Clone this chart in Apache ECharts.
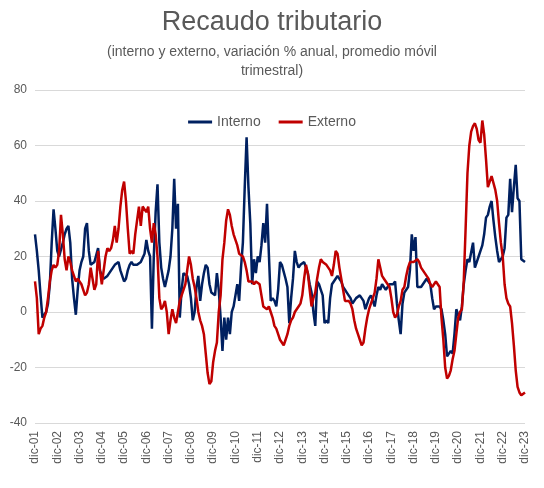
<!DOCTYPE html>
<html>
<head>
<meta charset="utf-8">
<script src="https://cdn.jsdelivr.net/npm/echarts@6/dist/echarts.min.js"></script>
<style>html,body{margin:0;padding:0;background:#fff}#chart{width:544px;height:488px}</style>
</head>
<body>
<div id="chart"></div>
<script>
'use strict';
// meses (dic-01 .. dic-23)
const monthNames = ['ene', 'feb', 'mar', 'abr', 'may', 'jun', 'jul', 'ago', 'sep', 'oct', 'nov', 'dic'];
const yTicks = [-40, -20, 0, 20, 40, 60, 80];

const interno = [
    28, 22, 15, 6, -2, -1, 0, 3, 10, 25, 37, 30, 22,
    20, 20, 25, 28, 30, 31, 25, 12, 5, -1, 8, 15,
    18, 20, 30, 32, 22, 17, 17, 18, 18, 23, 15, 13,
    12, 12, 13, 14, 15, 16, 17, 17, 18, 15, 13, 11,
    12, 15, 17, 18, 17, 17, 17, 17, 18, 18, 21, 26,
    22, 20, -6, 20, 36, 46, 25, 16, 12, 9, 12, 15,
    20, 30, 48, 30, 39, -2, 8, 14, 14, 13, 10, 5,
    -3, 0, 9, 13, 4, 10, 14, 17, 16, 10, 7, 7,
    6, 14, 8, -2, -14, -2, -10, -2, -8, 0, 2, 6,
    10, 4, 16, 25, 45, 63, 45, 32, 10, 19, 14, 20,
    18, 24, 32, 25, 39, 21, 4, 5, 4, 2, 8, 18,
    17, 17, 12, 9, -4, 5, 12, 22, 18, 16, 17, 17,
    18, 18, 14, 10, 7, 0, -5, 11, 10, 8, 6, -4,
    -3, -4, 5, 10, 11, 12, 13, 12, 11, 9, 8, 7,
    6, 5, 3, 4, 5, 5, 6, 5, 4, 1, 3, 5,
    6, 4, 2, 6, 9, 8, 10, 9, 8, 9, 10, 10,
    10, 11, 3, -3, -8, 3, 7, 8, 9, 15, 28, 22,
    27, 9, 9, 9, 10, 11, 12, 11, 10, 5, 1, 2,
    2, 2, 1, -3, -8, -16, -15, -14, -15, -8, 1, -1,
    -3, 2, 10, 15, 19, 18, 18, 25, 16, 18, 20, 22,
    24, 28, 34, 35, 38, 40, 33, 27, 22, 18, 18, 20,
    23, 34, 35, 48, 36, 45, 53, 41, 40, 19, 19, 18
];

const externo = [
    11, 5, -8, -6, -5, -2, 0, 5, 11, 15, 17, 16, 17,
    22, 35, 28, 19, 15, 20, 18, 15, 13, 11, 12, 11,
    10, 8, 6, 7, 10, 16, 12, 8, 10, 22, 15, 10,
    15, 20, 23, 22, 23, 26, 31, 25, 30, 38, 44, 47,
    40, 30, 21, 22, 21, 28, 33, 38, 31, 38, 38, 36,
    38, 30, 25, 32, 28, 20, 5, 1, 2, 4, 0, -8,
    -3, 1, -2, -4, 0, 4, 4, 8, 10, 15, 20, 17,
    12, 9, 5, 0, -3, -5, -8, -15, -22, -26, -25, -18,
    -14, -11, 0, 6, 19, 25, 33, 37, 35, 31, 28, 26,
    24, 21, 21, 20, 18, 15, 11, 11, 11, 10, 11, 11,
    10, 6, 2, 2, 1, 2, 0, -2, -5, -6, -8, -10,
    -11, -12, -10, -8, -5, -3, -2, 0, 1, 2, 3, 6,
    12, 17, 14, 8, 2, 5, 7, 12, 16, 19, 18, 18,
    17, 17, 15, 13, 17, 22, 21, 16, 12, 8, 4, 4,
    4, 3, 1, -3, -6, -8, -10, -12, -11, -6, -2, 1,
    3, 5, 7, 12, 19, 16, 13, 12, 11, 11, 9, 5,
    0, -2, -1, 2, 4, 8, 9, 13, 16, 18, 18, 18,
    18, 19, 18, 16, 15, 14, 13, 12, 10, 9, 9, 11,
    11, 9, -2, -10, -20, -24, -23, -21, -17, -14, -8, -2,
    0, 1, 11, 30, 50, 60, 65, 67, 68, 66, 62, 61,
    69, 64, 55, 45, 47, 49, 49, 44, 40, 32, 25, 20,
    10, 5, 3, 2, -4, -12, -21, -27, -29, -30, -30, -29
];

const categories = [];
for (let i = 0; i < interno.length; i++) {
    const m = (11 + i) % 12;
    const y = 1 + Math.floor((11 + i) / 12);
    categories.push(`${monthNames[m]}-${String(y).padStart(2, '0')}`);
}

const grey = '#595959';
const subStyle = { fontSize: 14, fontWeight: 'normal', color: grey };
const chart = echarts.init(document.getElementById('chart'));
chart.setOption({
    animation: false,
    textStyle: { fontFamily: 'Liberation Sans, Arial, sans-serif' },
    title: [{
        text: 'Recaudo tributario',
        left: 'center', top: 4,
        textStyle: { fontSize: 27, fontWeight: 'normal', color: grey }
    }, {
        text: '(interno y externo, variación % anual, promedio móvil',
        left: 'center', top: 40, textStyle: subStyle
    }, {
        text: 'trimestral)',
        left: 'center', top: 59, textStyle: subStyle
    }],
    legend: {
        top: 110, left: 'center',
        itemWidth: 24, itemHeight: 3, itemGap: 18,
        icon: 'rect',
        textStyle: { fontSize: 14, color: grey },
        data: ['Interno', 'Externo']
    },
    grid: { left: 35, right: 19, top: 90, bottom: 65 },
    xAxis: {
        type: 'category', data: categories, boundaryGap: false,
        axisLine: { lineStyle: { color: '#d9d9d9' } },
        axisTick: { show: false },
        axisLabel: {
            rotate: 90, color: grey, fontSize: 12,
            interval: (idx) => idx % 12 === 0
        }
    },
    yAxis: {
        type: 'value', min: yTicks[0], max: yTicks[yTicks.length - 1], interval: 20,
        axisLine: { show: false }, axisTick: { show: false },
        axisLabel: { color: grey, fontSize: 12 },
        splitLine: { lineStyle: { color: '#d9d9d9' } }
    },
    series: [{
        name: 'Interno', type: 'line', data: interno, showSymbol: false,
        lineStyle: { width: 2.5, color: '#002060' }, itemStyle: { color: '#002060' }
    }, {
        name: 'Externo', type: 'line', data: externo, showSymbol: false,
        lineStyle: { width: 2.5, color: '#C00000' }, itemStyle: { color: '#C00000' }
    }]
});
</script>
</body>
</html>
